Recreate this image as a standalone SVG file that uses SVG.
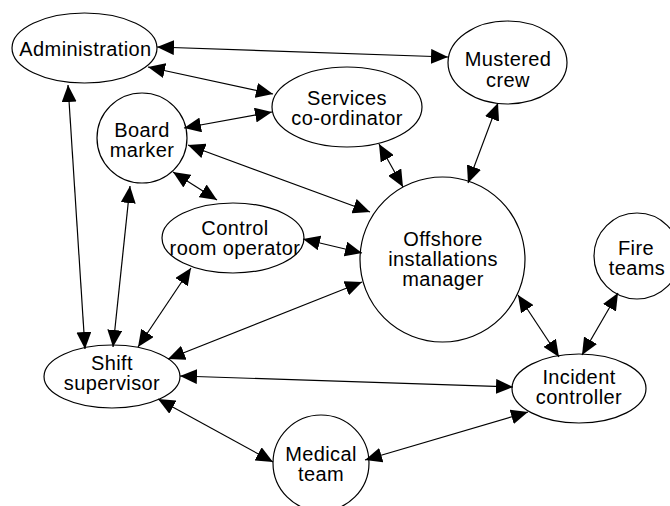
<svg xmlns="http://www.w3.org/2000/svg" width="670" height="506" viewBox="0 0 670 506">
<style>
.n{fill:#fff;stroke:#000;stroke-width:1.2}
.t{font-family:"Liberation Sans",Arial,sans-serif;font-size:20px;letter-spacing:0.4px;fill:#000;text-anchor:middle}
.c line{stroke:#000;stroke-width:1.2;marker-start:url(#a);marker-end:url(#a)}
</style>
<defs>
<marker id="a" viewBox="0 0 17 15" refX="17" refY="7.5" markerWidth="17" markerHeight="15" markerUnits="userSpaceOnUse" orient="auto-start-reverse"><path d="M0,0 L17,7.5 L0,15 z" fill="#000"/></marker>
</defs>
<rect width="670" height="506" fill="#fff"/>
<g id="nodes">
<g id="administration"><ellipse class="n" cx="84.5" cy="48" rx="72.5" ry="35"/><text class="t" x="85.5" y="56">Administration</text></g>
<g id="mustered-crew"><ellipse class="n" cx="507.5" cy="62.5" rx="59.5" ry="41.5"/><text class="t" x="508" y="66">Mustered</text><text class="t" x="508" y="87">crew</text></g>
<g id="services"><ellipse class="n" cx="347" cy="107" rx="75" ry="40"/><text class="t" x="347" y="105">Services</text><text class="t" x="347" y="125">co-ordinator</text></g>
<g id="board-marker"><circle class="n" cx="142" cy="138" r="45"/><text class="t" x="142" y="137">Board</text><text class="t" x="142" y="157">marker</text></g>
<g id="control-room"><ellipse class="n" cx="233" cy="238" rx="71" ry="35"/><text class="t" x="235" y="235">Control</text><text class="t" x="235" y="255">room operator</text></g>
<g id="oim"><circle class="n" cx="442.5" cy="259.5" r="82.5"/><text class="t" x="443" y="246">Offshore</text><text class="t" x="443" y="266">installations</text><text class="t" x="443" y="286">manager</text></g>
<g id="fire-teams"><circle class="n" cx="637" cy="256" r="43"/><text class="t" x="636" y="255">Fire</text><text class="t" x="637" y="275">teams</text></g>
<g id="shift-supervisor"><ellipse class="n" cx="112" cy="376.5" rx="68" ry="31.5"/><text class="t" x="112" y="370">Shift</text><text class="t" x="112" y="390">supervisor</text></g>
<g id="incident-controller"><ellipse class="n" cx="579" cy="388.5" rx="67" ry="34.5"/><text class="t" x="579" y="384">Incident</text><text class="t" x="579" y="404">controller</text></g>
<g id="medical-team"><circle class="n" cx="321" cy="463" r="48"/><text class="t" x="321" y="461">Medical</text><text class="t" x="321" y="481">team</text></g>
</g>
<g id="connectors" class="c">
<line x1="157" y1="47" x2="448" y2="57"/>
<line x1="148" y1="67" x2="273" y2="94"/>
<line x1="184" y1="128" x2="272" y2="112"/>
<line x1="188" y1="145" x2="370" y2="212"/>
<line x1="173" y1="172" x2="217" y2="200"/>
<line x1="68" y1="85" x2="85" y2="349"/>
<line x1="130" y1="186" x2="113" y2="347"/>
<line x1="191" y1="268" x2="138" y2="347"/>
<line x1="362" y1="282" x2="168" y2="359"/>
<line x1="180" y1="376" x2="513" y2="387"/>
<line x1="158" y1="399" x2="273" y2="462"/>
<line x1="365" y1="460" x2="528" y2="412"/>
<line x1="518" y1="295" x2="559" y2="357"/>
<line x1="618" y1="293" x2="582" y2="355"/>
<line x1="303" y1="239" x2="362" y2="253"/>
<line x1="379" y1="144" x2="403" y2="187"/>
<line x1="498" y1="103" x2="468" y2="183"/>
</g>
</svg>
